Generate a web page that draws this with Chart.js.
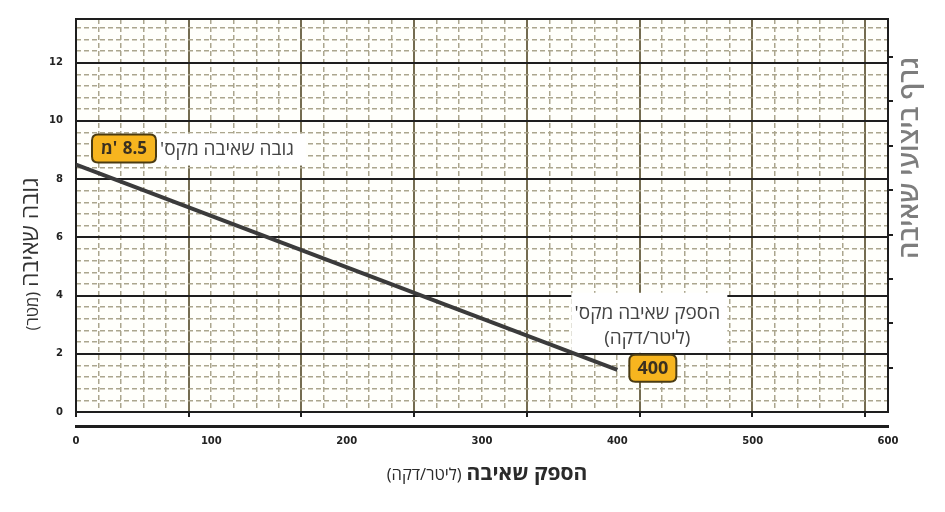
<!DOCTYPE html>
<html>
<head>
<meta charset="utf-8">
<script src="https://cdn.jsdelivr.net/npm/chart.js@4/dist/chart.umd.min.js"></script>
<style>
html,body{margin:0;padding:0;background:#ffffff;}
#wrap{width:945px;height:512px;position:relative;}
</style>
</head>
<body>
<div id="wrap"><canvas id="c" width="945" height="512"></canvas></div>
<script>
// ---- data ----
const flowLpm = [0, 400];          // flow, litres per minute
const headM = [8.5, 1.45];         // head, metres
const xTicks = [0, 100, 200, 300, 400, 500, 600];
const yTicks = [0, 2, 4, 6, 8, 10, 12];
const yMax = 13.5;
const yMinorStep = 0.4;
const feetMax = 44.29;             // right hidden axis (feet)
const feetStep = 5;
const gpmMax = 158.5;              // hidden secondary flow axis (gpm) used for the grid
const gpmMajorStep = 22;
const gpmMinorStep = 4.4;

const xTitleMain = 'הספק שאיבה';
const xTitleUnit = '(ליטר/דקה)';
const yTitleMain = 'גובה שאיבה';
const yTitleUnit = '(מטר)';
const sideTitle = 'גרף ביצועי שאיבה';
const maxHeadLabel = "גובה שאיבה מקס'";
const maxHeadValue = ['מ', "'", '8.5'];   // visual order, left to right
const maxFlowLabel = ["הספק שאיבה מקס'", '(ליטר/דקה)'];
const maxFlowValue = ['400'];

// ---- styles ----
const HEB = '"Open Sans", "DejaVu Sans", sans-serif';
const TICKFONT = {family: '"DejaVu Sans", sans-serif', weight: 'bold', size: 10};
const BLACK = '#1e1e1e';
const OLIVE = '#746c50';
const MINOR = '#aba68e';

function isMult(v, step) {
  const r = v / step;
  return Math.abs(r - Math.round(r)) < 1e-6;
}

function roundRect(ctx, x, y, w, h, r) {
  ctx.beginPath();
  ctx.moveTo(x + r, y);
  ctx.lineTo(x + w - r, y);
  ctx.quadraticCurveTo(x + w, y, x + w, y + r);
  ctx.lineTo(x + w, y + h - r);
  ctx.quadraticCurveTo(x + w, y + h, x + w - r, y + h);
  ctx.lineTo(x + r, y + h);
  ctx.quadraticCurveTo(x, y + h, x, y + h - r);
  ctx.lineTo(x, y + r);
  ctx.quadraticCurveTo(x, y, x + r, y);
  ctx.closePath();
}

// draws text pieces left-to-right (visual order); a gap is placed before the last piece
function badge(ctx, x, y, w, h, pieces, size) {
  roundRect(ctx, x, y, w, h, 6);
  ctx.fillStyle = '#f7b51f';
  ctx.fill();
  ctx.lineWidth = 2;
  ctx.strokeStyle = '#4a3b12';
  ctx.stroke();
  ctx.fillStyle = '#3a3020';
  ctx.font = 'bold ' + size + 'px ' + HEB;
  ctx.textAlign = 'left';
  ctx.textBaseline = 'middle';
  ctx.direction = 'ltr';
  const gaps = pieces.map((p, i) => (pieces.length > 1 && i === pieces.length - 2) ? size * 0.32 : 0);
  const widths = pieces.map(p => ctx.measureText(p).width);
  const total = widths.reduce((s, v, i) => s + v + gaps[i], 0);
  let cx = x + (w - total) / 2;
  pieces.forEach((p, i) => {
    ctx.fillText(p, cx, y + h / 2 + 1);
    cx += widths[i] + gaps[i];
  });
}

const bgPlugin = {
  id: 'bg',
  beforeDraw(chart) {
    const {ctx, chartArea: a} = chart;
    ctx.save();
    ctx.fillStyle = '#fffffb';
    ctx.fillRect(a.left, a.top, a.right - a.left, a.bottom - a.top);
    ctx.restore();
  }
};

function endPoints(chart) {
  const xs = chart.scales.x, ys = chart.scales.y;
  return [
    {x: xs.getPixelForValue(flowLpm[0]), y: ys.getPixelForValue(headM[0])},
    {x: xs.getPixelForValue(flowLpm[1]), y: ys.getPixelForValue(headM[1])}
  ];
}

const annoPlugin = {
  id: 'anno',
  beforeDatasetsDraw(chart) {
    const {ctx} = chart;
    const [p0, p1] = endPoints(chart);
    ctx.save();
    ctx.fillStyle = '#ffffff';
    ctx.fillRect(p0.x + 80, p0.y - 31, 150, 32);
    ctx.fillRect(p1.x - 46, p1.y - 77, 156, 60);
    ctx.restore();
  },
  afterDatasetsDraw(chart) {
    const {ctx, chartArea: a} = chart;
    const [p0, p1] = endPoints(chart);
    ctx.save();
    // top frame line
    ctx.strokeStyle = BLACK;
    ctx.lineWidth = 2;
    ctx.beginPath();
    ctx.moveTo(a.left - 1, a.top);
    ctx.lineTo(a.right + 1, a.top);
    ctx.stroke();

    // max head annotation
    ctx.fillStyle = '#444444';
    ctx.font = '19px ' + HEB;
    ctx.textAlign = 'center';
    ctx.textBaseline = 'middle';
    ctx.direction = 'rtl';
    ctx.fillText(maxHeadLabel, p0.x + 151, p0.y - 15);
    badge(ctx, p0.x + 16, p0.y - 30, 64, 28, maxHeadValue, 17);

    // max flow annotation
    ctx.fillStyle = '#444444';
    ctx.font = '19px ' + HEB;
    ctx.textAlign = 'center';
    ctx.textBaseline = 'middle';
    ctx.direction = 'rtl';
    ctx.fillText(maxFlowLabel[0], p1.x + 30, p1.y - 56);
    ctx.fillText(maxFlowLabel[1], p1.x + 30, p1.y - 31);
    badge(ctx, p1.x + 12, p1.y - 15, 47, 27, maxFlowValue, 18);
    ctx.restore();
  },
  afterDraw(chart) {
    const {ctx, chartArea: a} = chart;
    ctx.save();
    ctx.textBaseline = 'alphabetic';
    ctx.textAlign = 'left';
    ctx.direction = 'ltr';

    // x title: unit (left) + main (right)
    const bigX = 'bold 21px ' + HEB, smallX = '16.5px ' + HEB;
    ctx.font = bigX; const wb = ctx.measureText(xTitleMain).width;
    ctx.font = smallX; const ws = ctx.measureText(xTitleUnit).width;
    const gap = 5;
    const cx = (a.left + a.right) / 2 + 5;
    let sx = cx - (wb + gap + ws) / 2;
    ctx.fillStyle = '#2a2a2a';
    ctx.font = smallX;
    ctx.fillText(xTitleUnit, sx, 480);
    ctx.font = bigX;
    ctx.fillText(xTitleMain, sx + ws + gap, 480);

    // y title (rotated)
    const bigY = '23px ' + HEB, smallY = '16.5px ' + HEB;
    ctx.font = bigY; const yb = ctx.measureText(yTitleMain).width;
    ctx.font = smallY; const ys2 = ctx.measureText(yTitleUnit).width;
    ctx.save();
    ctx.translate(38, 254);
    ctx.rotate(-Math.PI / 2);
    let lx = -(yb + 5 + ys2) / 2;
    ctx.fillStyle = '#333333';
    ctx.font = smallY;
    ctx.fillText(yTitleUnit, lx, 0);
    ctx.font = bigY;
    ctx.fillText(yTitleMain, lx + ys2 + 5, 0);
    ctx.restore();

    // side title (rotated, right)
    ctx.save();
    ctx.translate(918, 158);
    ctx.rotate(-Math.PI / 2);
    ctx.fillStyle = '#7d7d7d';
    ctx.font = '600 27px ' + HEB;
    ctx.textAlign = 'center';
    ctx.fillText(sideTitle, 0, 0);
    ctx.restore();
    ctx.restore();
  }
};

new Chart(document.getElementById('c'), {
  type: 'line',
  data: {
    datasets: [{
      data: flowLpm.map((x, i) => ({x: x, y: headM[i]})),
      borderColor: '#3b3b3b',
      borderWidth: 4,
      pointRadius: 0,
      fill: false,
      tension: 0,
      xAxisID: 'x',
      yAxisID: 'y'
    }]
  },
  options: {
    responsive: false,
    animation: false,
    devicePixelRatio: 1,
    layout: {padding: {top: 18, left: 0, right: 0, bottom: 0}},
    plugins: {legend: {display: false}, tooltip: {enabled: false}},
    scales: {
      x: {
        type: 'linear', position: 'bottom', weight: 3,
        min: xTicks[0], max: xTicks[xTicks.length - 1],
        afterBuildTicks(s) { s.ticks = xTicks.map(v => ({value: v})); },
        ticks: {font: TICKFONT, color: '#222', padding: 9, maxRotation: 0},
        grid: {display: false, drawTicks: false},
        border: {display: true, color: BLACK, width: 3},
        afterFit(s) { s.height = 86; }
      },
      xg: {
        type: 'linear', position: 'bottom', weight: 1,
        min: 0, max: gpmMax,
        ticks: {display: false, stepSize: gpmMajorStep, includeBounds: false, maxTicksLimit: 1000},
        grid: {color: (c) => c.tick && c.tick.value === 0 ? 'transparent' : OLIVE, lineWidth: 2, tickLength: 5, tickColor: BLACK, tickWidth: 2},
        border: {display: true, color: BLACK, width: 2},
        afterFit(s) { s.height = 14; }
      },
      xm: {
        type: 'linear', position: 'bottom', weight: 2,
        min: 0, max: gpmMax,
        ticks: {display: false, stepSize: gpmMinorStep, includeBounds: false, maxTicksLimit: 1000},
        grid: {color: (c) => (c.tick && isMult(c.tick.value, gpmMajorStep)) ? 'transparent' : MINOR, lineWidth: 1.5, drawTicks: false},
        border: {display: false, dash: [5, 3]},
        afterFit(s) { s.height = 0; }
      },
      y: {
        type: 'linear', position: 'left', weight: 1,
        min: 0, max: yMax,
        afterBuildTicks(s) { s.ticks = yTicks.map(v => ({value: v})); },
        ticks: {font: TICKFONT, color: '#222', padding: 13},
        grid: {color: (c) => c.tick && c.tick.value === 0 ? 'transparent' : BLACK, lineWidth: 2, drawTicks: false},
        border: {display: true, color: BLACK, width: 2},
        afterFit(s) { s.width = 76; }
      },
      ym: {
        type: 'linear', position: 'left', weight: 0,
        min: 0, max: yMax,
        ticks: {display: false, stepSize: yMinorStep, includeBounds: false, maxTicksLimit: 1000},
        grid: {color: (c) => (c.tick && isMult(c.tick.value, 2)) ? 'transparent' : MINOR, lineWidth: 1.5, drawTicks: false},
        border: {display: false, dash: [5, 3]},
        afterFit(s) { s.width = 0; }
      },
      y2: {
        type: 'linear', position: 'right',
        min: 0, max: feetMax,
        ticks: {display: false, stepSize: feetStep, includeBounds: false, maxTicksLimit: 1000},
        grid: {drawOnChartArea: false, tickLength: 5, color: (c) => c.tick && c.tick.value === 0 ? 'transparent' : BLACK, lineWidth: 2},
        border: {display: true, color: BLACK, width: 2},
        afterFit(s) { s.width = 57; }
      }
    }
  },
  plugins: [bgPlugin, annoPlugin]
});
</script>
</body>
</html>
